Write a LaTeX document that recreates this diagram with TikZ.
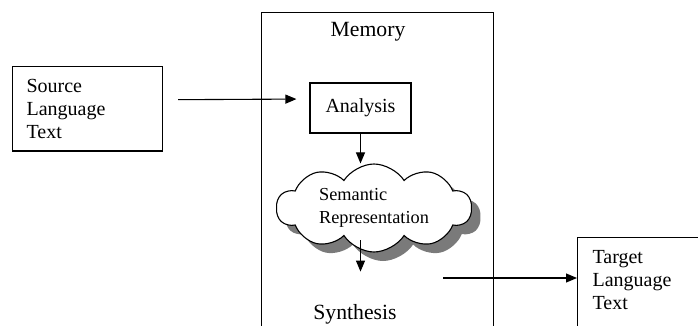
\documentclass[tikz,border=0pt]{standalone}
\usepackage{fontspec}
\setmainfont{Liberation Serif}
\usetikzlibrary{shapes.symbols,shadows,arrows.meta}
\newcommand{\bodyfont}{\fontsize{20}{23}\selectfont}
\newcommand{\bigfont}{\fontsize{21.7}{25}\selectfont}

\begin{document}
\begin{tikzpicture}[x=1pt,y=-1pt,
	flow/.style={line width=1.1pt,-{Triangle[length=11pt,width=9pt]}},
	textbox/.style={draw,line width=1.1pt,align=left,inner xsep=14pt,inner ysep=12.5pt,font=\bodyfont}]
	\definecolor{shadowgray}{HTML}{7A7A7A}
	\clip (0,0) rectangle (698,326);
	
	% boxes
	\node[textbox,text width=122pt,anchor=north west] (source) at (12,66) {Source\\Language\\Text};
	\node[draw,line width=1.1pt,anchor=north west,minimum width=232pt,minimum height=340pt] (memory) at (261,12) {};
	\node[draw,line width=1.1pt,minimum width=101pt,minimum height=50pt,font=\bodyfont] (analysis) at (360.5,108) {Analysis};
	\node[textbox,inner xsep=15pt,anchor=north west] (target) at (577,237)
		{\parbox[t][110pt][t]{130pt}{Target\\Language\\Text}};
	\node[cloud,cloud puffs=10,cloud puff arc=115,cloud ignores aspect,draw,line width=1.1pt,fill=white,
		minimum width=195pt,minimum height=88pt,inner sep=0pt,align=left,font=\fontsize{18.3}{23}\selectfont,
		drop shadow={shadow xshift=9pt,shadow yshift=-9pt,fill=shadowgray,opacity=1}] (cloud) at (374,208) {Semantic\\Representation};
	
	% labels
	\node[font=\bigfont] (memtitle) at (368,32) {Memory};
	\node[font=\bigfont] (synth) at (355,314) {Synthesis};
	\coordinate (synout) at (443,278);
	
	% arrows
	\draw[flow,shorten <=15pt,shorten >=13pt] ([yshift=9pt]source.east) -- ([yshift=9pt]analysis.west);
	\draw[flow] (analysis.south) -- (analysis.south |- cloud.north);
	\draw[flow,shorten <=32pt,shorten >=29pt] (analysis.south |- cloud.center) -- (analysis.south |- synth.north);
	\draw[flow] (synout) -- (synout -| target.west);
\end{tikzpicture}
\end{document}
